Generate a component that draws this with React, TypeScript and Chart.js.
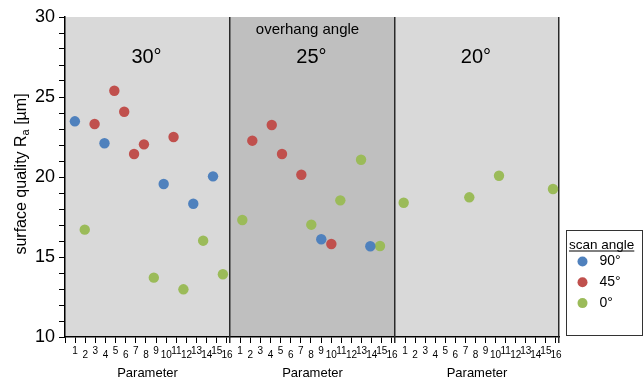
import React, { useEffect, useRef } from 'react';
import { Chart, registerables } from 'chart.js';

Chart.register(...registerables);

const FONT = '"Liberation Sans", Arial, Helvetica, sans-serif';

// Panels (overhang angle) and parameter ticks
const PANEL_LABELS = ['30°', '25°', '20°'];
const PANEL_BOUNDS = [0, 16.72, 33.44, 50.06];
const PANEL_FILLS = ['#d9d9d9', '#bfbfbf', '#d9d9d9'];
const PARAM_TICKS = [1, 2, 3, 4, 5, 6, 7, 8, 9, 10, 11, 12, 13, 14, 15, 16];
const Y_MIN = 10;
const Y_MAX = 30;

// Series (scan angle)
const SERIES_NAMES = ['90°', '45°', '0°'];
const SERIES_COLORS = ['#4f81bd', '#c0504d', '#9bbb59'];

const BLUE_PANEL = [0, 0, 0, 0, 0, 1, 1];
const BLUE_POS = [1, 4, 10, 13, 15, 9.25, 14.22];
const BLUE_VAL = [23.48, 22.11, 19.56, 18.33, 20.04, 16.11, 15.67];

const RED_PANEL = [0, 0, 0, 0, 0, 0, 1, 1, 1, 1, 1];
const RED_POS = [3, 5, 6, 7, 8, 11, 2.26, 4.23, 5.27, 7.23, 10.27];
const RED_VAL = [23.31, 25.39, 24.08, 21.44, 22.04, 22.5, 22.27, 23.25, 21.44, 20.14, 15.81];

const GREEN_PANEL = [0, 0, 0, 0, 0, 1, 1, 1, 1, 1, 2, 2, 2, 2];
const GREEN_POS = [2, 9, 12, 14, 16, 1.25, 8.24, 11.18, 13.28, 15.2, 0.88, 7.53, 10.54, 16.01];
const GREEN_VAL = [16.71, 13.71, 12.98, 16.02, 13.92, 17.31, 17.02, 18.54, 21.08, 15.69, 18.39, 18.73, 20.08, 19.25];

const SERIES_PANELS = [BLUE_PANEL, RED_PANEL, GREEN_PANEL];
const SERIES_POS = [BLUE_POS, RED_POS, GREEN_POS];
const SERIES_VALS = [BLUE_VAL, RED_VAL, GREEN_VAL];

const tickSpacing = (p: number) => (PANEL_BOUNDS[p + 1] - PANEL_BOUNDS[p]) / 16.3;

const panelPlugin = {
  id: 'panels',
  beforeDraw(chart: any) {
    const { ctx, chartArea, scales } = chart;
    const xs = scales.x;
    ctx.save();
    for (let p = 0; p < 3; p++) {
      const x0 = xs.getPixelForValue(PANEL_BOUNDS[p]);
      const x1 = xs.getPixelForValue(PANEL_BOUNDS[p + 1]);
      ctx.fillStyle = PANEL_FILLS[p];
      ctx.fillRect(x0, chartArea.top, x1 - x0, chartArea.bottom - chartArea.top);
    }
    ctx.restore();
  },
  beforeDatasetsDraw(chart: any) {
    const { ctx, chartArea, scales } = chart;
    const xs = scales.x;
    ctx.save();
    ctx.strokeStyle = '#2a2a2a';
    ctx.lineWidth = 1.5;
    for (let p = 1; p < 4; p++) {
      const x = Math.round(xs.getPixelForValue(PANEL_BOUNDS[p])) - 0.25;
      ctx.beginPath();
      ctx.moveTo(x, chartArea.top);
      ctx.lineTo(x, chartArea.bottom + 6);
      ctx.stroke();
    }
    ctx.restore();
  },
  afterDraw(chart: any) {
    const { ctx, chartArea, scales } = chart;
    const xs = scales.x;
    ctx.save();
    ctx.fillStyle = '#000';
    ctx.textAlign = 'center';
    ctx.textBaseline = 'middle';

    // staggered parameter tick labels
    ctx.font = `10px ${FONT}`;
    for (let p = 0; p < 3; p++) {
      PARAM_TICKS.forEach((k) => {
        const x = xs.getPixelForValue(PANEL_BOUNDS[p] + k * tickSpacing(p));
        const y = chartArea.bottom + (k % 2 === 1 ? 14 : 18);
        ctx.fillText(String(k), x, y);
      });
    }

    // axis titles and panel titles
    for (let p = 0; p < 3; p++) {
      const x0 = xs.getPixelForValue(PANEL_BOUNDS[p]);
      const x1 = xs.getPixelForValue(PANEL_BOUNDS[p + 1]);
      const cx = (x0 + x1) / 2;
      ctx.font = `13px ${FONT}`;
      ctx.fillText('Parameter', cx, chartArea.bottom + 36);
      ctx.font = `20px ${FONT}`;
      ctx.fillText(PANEL_LABELS[p], cx - 1, chartArea.top + 40);
      if (p === 1) {
        ctx.font = `15px ${FONT}`;
        ctx.fillText('overhang angle', cx - 5, chartArea.top + 13);
      }
    }

    // y axis title with subscript
    ctx.save();
    ctx.translate(22, (chartArea.top + chartArea.bottom) / 2 - 3);
    ctx.rotate(-Math.PI / 2);
    ctx.textAlign = 'left';
    const big = `16px ${FONT}`;
    const small = `11px ${FONT}`;
    const t1 = 'surface quality R';
    const t2 = 'a';
    const t3 = ' [µm]';
    ctx.font = big;
    const w1 = ctx.measureText(t1).width;
    const w3 = ctx.measureText(t3).width;
    ctx.font = small;
    const w2 = ctx.measureText(t2).width;
    let sx = -(w1 + w2 + w3) / 2;
    ctx.font = big;
    ctx.fillText(t1, sx, 0);
    sx += w1;
    ctx.font = small;
    ctx.fillText(t2, sx, 4);
    sx += w2;
    ctx.font = big;
    ctx.fillText(t3, sx, 0);
    ctx.restore();

    // legend
    const lx = chartArea.right + 7.5;
    const ly = 230.5;
    ctx.strokeStyle = '#333';
    ctx.lineWidth = 1;
    ctx.strokeRect(lx, ly, 76, 105);
    ctx.textAlign = 'left';
    ctx.textBaseline = 'alphabetic';
    ctx.font = `13.5px ${FONT}`;
    const title = 'scan angle';
    const tw = ctx.measureText(title).width;
    ctx.fillText(title, lx + 2.5, ly + 18.5);
    ctx.beginPath();
    ctx.moveTo(lx + 2.5, ly + 20.5);
    ctx.lineTo(lx + 2.5 + tw, ly + 20.5);
    ctx.strokeStyle = '#000';
    ctx.stroke();
    ctx.textBaseline = 'middle';
    ctx.font = `14px ${FONT}`;
    SERIES_NAMES.forEach((name, i) => {
      const cy = ly + 31 + i * 20.8;
      ctx.fillStyle = SERIES_COLORS[i];
      ctx.beginPath();
      ctx.arc(lx + 16, cy, 5, 0, Math.PI * 2);
      ctx.fill();
      ctx.fillStyle = '#000';
      ctx.fillText(name, lx + 33, cy);
    });
    ctx.restore();
  },
};

export default function App() {
  const canvasRef = useRef<HTMLCanvasElement | null>(null);

  useEffect(() => {
    if (!canvasRef.current) return;
    const datasets = SERIES_NAMES.map((name, i) => ({
      label: name,
      data: SERIES_VALS[i].map((v, j) => ({
        x: PANEL_BOUNDS[SERIES_PANELS[i][j]] + SERIES_POS[i][j],
        y: v,
      })),
      backgroundColor: SERIES_COLORS[i],
      borderWidth: 0,
      pointRadius: 5.2,
      pointHoverRadius: 5.2,
    }));

    const chart = new Chart(canvasRef.current, {
      type: 'scatter',
      data: { datasets },
      options: {
        animation: false,
        responsive: true,
        maintainAspectRatio: false,
        layout: { padding: { left: 0, top: 17, right: 84, bottom: 0 } },
        plugins: { legend: { display: false }, tooltip: { enabled: false } },
        scales: {
          x: {
            type: 'linear',
            min: PANEL_BOUNDS[0],
            max: PANEL_BOUNDS[3],
            afterBuildTicks: (scale: any) => {
              const ticks: { value: number }[] = [];
              for (let p = 0; p < 3; p++) {
                for (let k = 0; k <= 16; k++) {
                  ticks.push({ value: PANEL_BOUNDS[p] + k * tickSpacing(p) });
                }
              }
              scale.ticks = ticks;
            },
            afterFit: (scale: any) => {
              scale.height = 40;
            },
            ticks: { display: false, autoSkip: false },
            grid: {
              drawOnChartArea: false,
              drawTicks: true,
              tickLength: 6,
              color: '#000',
              lineWidth: 1,
            },
            border: { display: true, color: '#000', width: 1.5 },
          },
          y: {
            type: 'linear',
            min: Y_MIN,
            max: Y_MAX,
            afterFit: (scale: any) => {
              scale.width = 65;
            },
            ticks: {
              stepSize: 1,
              autoSkip: false,
              color: '#000',
              padding: 4,
              font: { family: FONT, size: 18 },
              callback: (v: any) => (Number(v) % 5 === 0 ? String(v) : ''),
            },
            grid: {
              drawOnChartArea: false,
              drawTicks: true,
              tickLength: 6,
              color: '#000',
              lineWidth: 1,
            },
            border: { display: true, color: '#000', width: 1.5 },
          },
        },
      },
      plugins: [panelPlugin],
    });
    return () => chart.destroy();
  }, []);

  return (
    <div style={{ position: 'fixed', left: 0, top: 0, width: 643, height: 377, background: '#fff' }}>
      <canvas ref={canvasRef} />
    </div>
  );
}
